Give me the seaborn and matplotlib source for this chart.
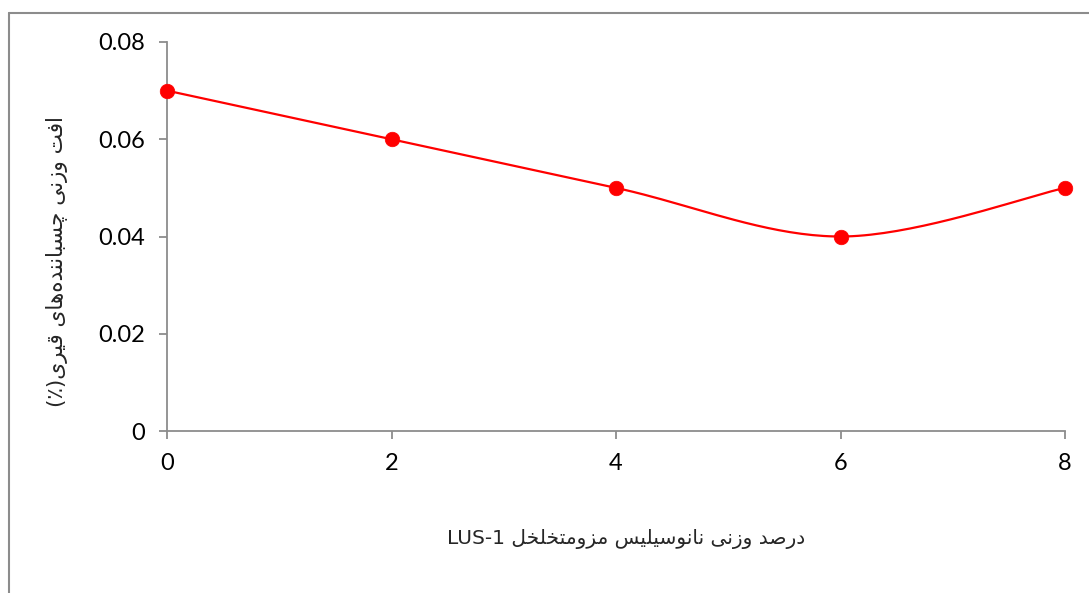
import numpy as np
import pandas as pd
import matplotlib
matplotlib.use("Agg")
import matplotlib.pyplot as plt
import seaborn as sns
from matplotlib.lines import Line2D

# ---------------- data ----------------
x_values = [0, 2, 4, 6, 8]
y_values = [0.07, 0.06, 0.05, 0.04, 0.05]
y_ticks = [0, 0.02, 0.04, 0.06, 0.08]
y_tick_labels = ["0", "0.02", "0.04", "0.06", "0.08"]
x_ticks = [0, 2, 4, 6, 8]
x_label_fa = "درصد وزنی نانوسیلیس مزومتخلخل"
x_label_latin = "LUS-1"
y_label_fa = "افت وزنی چسباننده\u200cهای قیری"
y_label_suffix = "(٪)"

# ---------------- simple Persian shaping ----------------
FORMS = {  # isolated, final, initial, medial
    "ا": ("\uFE8D", "\uFE8E", None, None),
    "ب": ("\uFE8F", "\uFE90", "\uFE91", "\uFE92"),
    "ت": ("\uFE95", "\uFE96", "\uFE97", "\uFE98"),
    "خ": ("\uFEA5", "\uFEA6", "\uFEA7", "\uFEA8"),
    "د": ("\uFEA9", "\uFEAA", None, None),
    "ر": ("\uFEAD", "\uFEAE", None, None),
    "ز": ("\uFEAF", "\uFEB0", None, None),
    "س": ("\uFEB1", "\uFEB2", "\uFEB3", "\uFEB4"),
    "ص": ("\uFEB9", "\uFEBA", "\uFEBB", "\uFEBC"),
    "ف": ("\uFED1", "\uFED2", "\uFED3", "\uFED4"),
    "ق": ("\uFED5", "\uFED6", "\uFED7", "\uFED8"),
    "ل": ("\uFEDD", "\uFEDE", "\uFEDF", "\uFEE0"),
    "م": ("\uFEE1", "\uFEE2", "\uFEE3", "\uFEE4"),
    "ن": ("\uFEE5", "\uFEE6", "\uFEE7", "\uFEE8"),
    "ه": ("\uFEE9", "\uFEEA", "\uFEEB", "\uFEEC"),
    "و": ("\uFEED", "\uFEEE", None, None),
    "ی": ("\uFBFC", "\uFBFD", "\uFBFE", "\uFBFF"),
    "چ": ("\uFB7A", "\uFB7B", "\uFB7C", "\uFB7D"),
}


def shape(text):
    chars = list(text)
    out = []
    n = len(chars)
    for i, c in enumerate(chars):
        if c not in FORMS:
            if c != "\u200c":
                out.append(c)
            continue
        iso, fin, ini, med = FORMS[c]
        prev = chars[i - 1] if i > 0 else None
        nxt = chars[i + 1] if i < n - 1 else None
        join_prev = prev in FORMS and FORMS[prev][2] is not None
        join_next = nxt in FORMS and ini is not None
        if join_prev and join_next:
            out.append(med)
        elif join_prev:
            out.append(fin)
        elif join_next:
            out.append(ini)
        else:
            out.append(iso)
    return "".join(reversed(out))


x_label = x_label_latin + " " + shape(x_label_fa)
y_label = y_label_suffix + shape(y_label_fa)

# ---------------- smooth curve (Excel-like Bezier through points) ----------------
def smooth_curve(xs, ys, n=40):
    P = np.column_stack([xs, ys]).astype(float)
    m = len(P)
    pts = []
    for i in range(m - 1):
        p0 = P[i - 1] if i > 0 else P[i]
        p1 = P[i]
        p2 = P[i + 1]
        p3 = P[i + 2] if i + 2 < m else P[i + 1]
        c1 = p1 + (p2 - p0) / 6.0
        c2 = p2 - (p3 - p1) / 6.0
        t = np.linspace(0, 1, n, endpoint=(i == m - 2))[:, None]
        seg = ((1 - t) ** 3) * p1 + 3 * ((1 - t) ** 2) * t * c1 + 3 * (1 - t) * t ** 2 * c2 + t ** 3 * p2
        pts.append(seg)
    pts = np.vstack(pts)
    return pts[:, 0], pts[:, 1]


sx, sy = smooth_curve(x_values, y_values)
curve_df = pd.DataFrame({"x": sx, "y": sy})
pts_df = pd.DataFrame({"x": x_values, "y": y_values})

# ---------------- plot ----------------
sns.set_theme(style="white")
plt.rcParams["font.family"] = ["Lato", "DejaVu Sans"]

fig = plt.figure(figsize=(10.89, 5.93), dpi=100)
ax = fig.add_axes([167 / 1089, 1 - 431 / 593, (1065 - 167) / 1089, (431 - 42) / 593])

sns.lineplot(data=curve_df, x="x", y="y", ax=ax, color="#FF0000", linewidth=1.6, sort=False, estimator=None)
sns.scatterplot(data=pts_df, x="x", y="y", ax=ax, color="#FF0000", s=110, edgecolor="#FF0000", linewidth=0.5, zorder=5, clip_on=False)

ax.set_xlim(0, 8)
ax.set_ylim(0, 0.08)
ax.set_xticks(x_ticks)
ax.set_xticklabels([str(v) for v in x_ticks], fontsize=17)
ax.set_yticks(y_ticks)
ax.set_yticklabels(y_tick_labels, fontsize=17)

for side in ["top", "right"]:
    ax.spines[side].set_visible(False)
for side in ["left", "bottom"]:
    ax.spines[side].set_color("#8c8c8c")
    ax.spines[side].set_linewidth(1.3)

ax.tick_params(axis="both", which="major", direction="out", length=6, width=1.3, color="#8c8c8c",
               labelcolor="black", bottom=True, left=True)
ax.tick_params(axis="x", pad=10)
ax.tick_params(axis="y", pad=10)

ax.set_xlabel(x_label, fontsize=14.5, family=["DejaVu Sans"], labelpad=0)
ax.xaxis.set_label_coords(0.511, -0.252)
ax.set_ylabel(y_label, fontsize=15.5, family=["DejaVu Sans"], labelpad=0)
ax.yaxis.set_label_coords(-0.11, 0.435)

# outer chart border (left & top visible)
fig.add_artist(Line2D([9 / 1089, 9 / 1089], [0, 1 - 13 / 593], transform=fig.transFigure, color="#8c8c8c", linewidth=1.5))
fig.add_artist(Line2D([9 / 1089, 1], [1 - 13 / 593, 1 - 13 / 593], transform=fig.transFigure, color="#8c8c8c", linewidth=1.5))

fig.savefig("out.png", dpi=100)
